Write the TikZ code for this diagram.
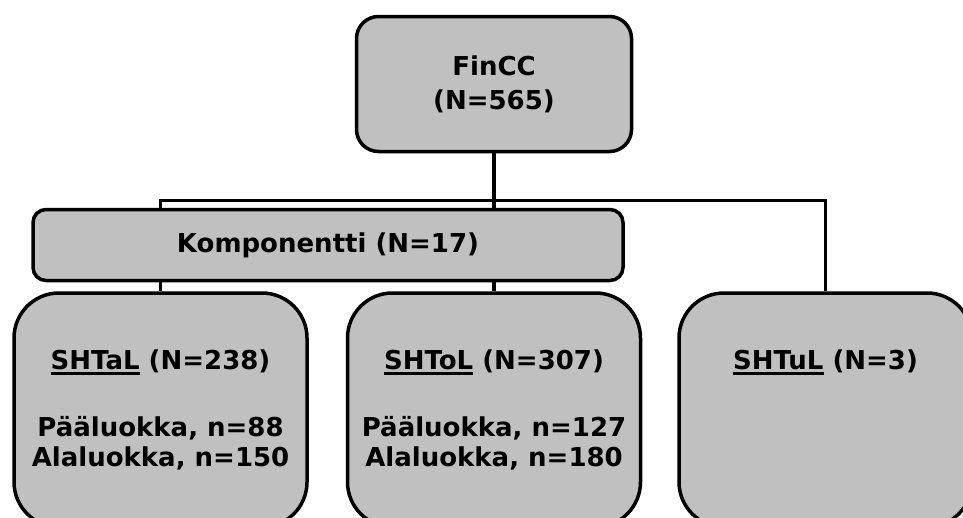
\documentclass[tikz,border=0pt]{standalone}
\usepackage{fontspec}
\setmainfont{DejaVu Sans}
\usepackage{xcolor}
\usepackage{tikz}
\usetikzlibrary{positioning}
\definecolor{boxgray}{RGB}{192,192,192}
\newcommand{\nameul}[1]{\sbox0{#1}\rlap{\rule[-5.5pt]{\wd0}{3pt}}\usebox0}

\begin{document}
\begin{tikzpicture}[x=1pt, y=1pt, every node/.style={font=\fontsize{26}{30}\selectfont\bfseries},
  box/.style={draw, line width=3.5pt, fill=boxgray, align=center, inner sep=0pt},
  topbox/.style={box, rounded corners=22pt, minimum width=275pt, minimum height=135pt},
  midbox/.style={box, rounded corners=13pt, minimum width=590pt, minimum height=71pt},
  leafbox/.style={box, rounded corners=45pt, minimum width=293pt, minimum height=234pt},
  link/.style={line width=3.2pt}]
\useasboundingbox (0,0) rectangle (963,-517);
\fill[white] (0,0) rectangle (963,-517);
\clip (0,0) rectangle (963,-517);
\node[topbox] (fincc) at (494,-84) {FinCC\\[4pt](N=565)};
\node[leafbox, below=138pt of fincc] (shtol) {\nameul{SHToL} (N=307)\\[37pt]Pääluokka, n=127\\Alaluokka, n=180};
\node[leafbox, left=37pt of shtol] (shtal) {\nameul{SHTaL} (N=238)\\[37pt]Pääluokka, n=88\\Alaluokka, n=150};
\node[leafbox, right=35pt of shtol] (shtul) {\nameul{SHTuL} (N=3)\\[37pt]\phantom{Pääluokka, n=127}\\\phantom{Alaluokka, n=180}};
\coordinate[below=47pt of fincc] (bus);
\draw[link] (fincc) -- (shtol);
\draw[link] (shtal) |- (bus) -| (shtul);
% component box sits over the links
\node[midbox, above right=9pt and 19pt of shtal.north west] (komp) {Komponentti (N=17)};
\end{tikzpicture}
\end{document}
